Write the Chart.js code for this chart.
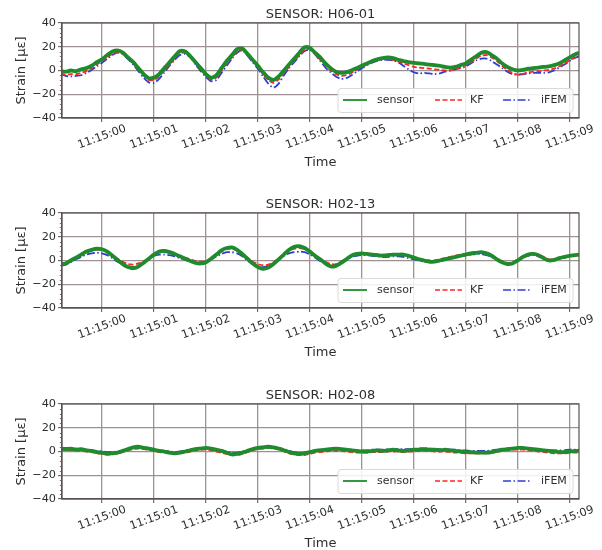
<!DOCTYPE html>
<html>
<head>
<meta charset="utf-8">
<script src="https://cdn.jsdelivr.net/npm/chart.js@4.4.1/dist/chart.umd.min.js"></script>
<style>
  html, body { margin: 0; padding: 0; background: #ffffff; }
  #wrap { position: relative; width: 602px; height: 550px; overflow: hidden; }
  #wrap canvas { position: absolute; left: 0; }
</style>
</head>
<body>
<div id="wrap">
  <canvas id="c1" width="602" height="190" style="top:0px"></canvas>
  <canvas id="c2" width="602" height="190" style="top:190px"></canvas>
  <canvas id="c3" width="602" height="169" style="top:381px"></canvas>
</div>
<script>
// Sample times in seconds after 11:15:00
const timeSec = [
  -0.8,-0.7,-0.6,-0.5,-0.4,-0.3,-0.2,-0.1,
  0.0,0.1,0.2,0.3,0.4,0.5,0.6,0.7,0.8,0.9,
  1.0,1.1,1.2,1.3,1.4,1.5,1.6,1.7,1.8,1.9,
  2.0,2.1,2.2,2.3,2.4,2.5,2.6,2.7,2.8,2.9,
  3.0,3.1,3.2,3.3,3.4,3.5,3.6,3.7,3.8,3.9,
  4.0,4.1,4.2,4.3,4.4,4.5,4.6,4.7,4.8,4.9,
  5.0,5.1,5.2,5.3,5.4,5.5,5.6,5.7,5.8,5.9,
  6.0,6.1,6.2,6.3,6.4,6.5,6.6,6.7,6.8,6.9,
  7.0,7.1,7.2,7.3,7.4,7.5,7.6,7.7,7.8,7.9,
  8.0,8.1,8.2,8.3,8.4,8.5,8.6,8.7,8.8,8.9,
  9.0,9.1,9.2
];

const tickSeconds = [0, 1, 2, 3, 4, 5, 6, 7, 8, 9];
const tickLabels = ['11:15:00','11:15:01','11:15:02','11:15:03','11:15:04',
                    '11:15:05','11:15:06','11:15:07','11:15:08','11:15:09'];
const strainTicks = [-40, -20, 0, 20, 40];
const seriesNames = ['sensor', 'KF', 'iFEM'];
const sensorIds = ['H06-01', 'H02-13', 'H02-08'];

// Strain [με] — sensor H06-01
const h0601Sensor = [
  -0.5,-1,0,-0.5,1,2,4,7,
  9.5,13,16,17,15,11,7,2,-3,-6.5,
  -6,-3,2,7,12,16.5,16,12,7,2,
  -3,-6,-4,2,8,13,18,18.5,14,9,
  4,-1.5,-6,-8,-5,0,5,10,15,19.5,
  19,15,11,6,2,-1,-2,-1.5,0,2,
  4,6,8,9.5,10.5,11,10.5,9,8,7,
  6.5,6,5.5,5,4.5,4,3,2.5,3,4.5,
  6,9,12,15,15.5,13,10,6,3,1,
  0,0.5,1.5,2,2.5,3,3.5,4.5,6,8.5,
  11,13.5,15
];
const h0601KF = [
  -3,-3.5,-3,-3,-2,-0.5,2,5,
  8,11,14,15.5,14,10.5,6,1,-4,-8,
  -8,-5,0,5,10,14.5,15,11.5,6,1,
  -4,-7.5,-6,0,6,11,16,17.5,13,8,
  3,-3,-8,-10.5,-7.5,-2,3,8,13,17.5,
  18,14,9,4,0,-3,-4.5,-4,-2,0.5,
  3,5,7,8.5,9.5,9.5,9,7.5,6,4.5,
  3,2.5,2,1.5,1,0.5,0,0,1,2.5,
  4.5,7,10,12.5,13,11,8,4,0.5,-2,
  -3.5,-3,-1.5,-1,-0.5,0,0.5,1.5,3.5,6,
  8.5,11,12.5
];
const h0601IFEM = [
  -3,-4.5,-5,-4.5,-4,-2,0.5,3.5,
  6.5,10,13,15,13.5,9.5,5,-0.5,-6,-10,
  -10.5,-7,-1.5,4,9,13,14,11,5,-0.5,
  -5.5,-9,-8,-2,4,10,15,17,12.5,7,
  1.5,-5,-11,-14.5,-11,-4,2,7,12,16.5,
  17.5,13.5,8,2.5,-1.5,-5,-7,-6.5,-4,-1,
  2,4.5,6.5,8,9,9,8.5,7,4,1,
  -1.5,-2.5,-2,-2.5,-3,-2.5,-1,0,1,2,
  3.5,6,8.5,10,10,8,5,2,-1,-3,
  -3.5,-3,-2.5,-2,-2,-2,-1.5,0,2.5,5,
  8,10.5,12
];

// Strain [με] — sensor H02-13
const h0213Sensor = [
  -3.5,-2.5,0,2.5,5,7.5,9,10,
  9.5,7.5,4,0.5,-3,-5.5,-6.5,-5,-2,1.5,
  5,7.5,8,7,5.5,3.5,1.5,-0.5,-2,-2.5,
  -1.5,1.5,5,8.5,10.5,11,9,5.5,1.5,-2.5,
  -5.5,-7,-6,-3,1,5,9,11.5,12,10.5,
  7.5,4,1,-2.5,-5,-4.5,-2,1,4,5.5,
  6,5.5,5,4.5,4,4.5,5,5,5,4,
  2.5,1,0,-1,-1,0,1,2,3,4,
  5,6,6.5,7,6,4,1,-1.5,-3,-2.5,
  0,3,5,5.5,4.5,2,0,0.5,2,3,
  4,4.5,5
];
const h0213KF = [
  -3,-2,0,2.5,5,7,8.5,9,
  9,7.5,4.5,1.5,-1,-3,-3.5,-2.5,-0.5,2,
  5,7,7.5,7,5.5,4,2.5,1,-0.5,-1,
  -0.5,2,5,7.5,9.5,10,8.5,5.5,2,-1,
  -3,-4,-3.5,-1.5,1.5,5,8,10,10.5,9.5,
  7,4,1.5,-1,-3,-3,-1,1.5,4.5,6,
  6.5,6,5.5,5,5,5,5.5,5.5,5,4,
  3,1.5,0.5,0,0,1,2,3,4,5,
  5.5,6.5,7,7,6,4,1.5,-0.5,-2,-1.5,
  1,3.5,5.5,6,5,3,1,1,2.5,3.5,
  4.5,5,5.5
];
const h0213IFEM = [
  -4.5,-3.5,-1.5,1,3,5,6,6.5,
  6,4.5,2,-1,-3.5,-5,-5.5,-4,-1.5,1.5,
  4,5,5,4.5,3.5,2,0.5,-1,-2,-2,
  -1,1,3.5,5.5,7,7,6,3.5,0,-3,
  -5,-5.5,-4.5,-2,1,4,6,7,7.5,7,
  5,2.5,-0.5,-3,-4.5,-4,-2,0.5,3,4,
  4.5,4.5,4,3.5,3,3,3.5,3.5,3,2,
  1,0,-1,-1.5,-1.5,-0.5,0.5,1.5,2.5,3.5,
  4.5,5,5.5,5.5,4.5,3,0.5,-1.5,-2.5,-2,
  0,2.5,4,4.5,3.5,1.5,0,0,1.5,2.5,
  3.5,4.5,5
];

// Strain [με] — sensor H02-08
const h0208Sensor = [
  2.5,2,2.5,1.5,2,1,0.5,-0.5,
  -1,-2,-1.5,-1,0.5,2,3.5,4,3,2.5,
  1.5,0.5,0,-1,-1.5,-1,0,1,2,2.5,
  3,2.5,1.5,0.5,-1,-2.5,-2,-1,0.5,2,
  3,3.5,4,3.5,2.5,1,-0.5,-1.5,-2,-1.5,
  -0.5,0.5,1,1.5,2,2.5,2,1.5,1,0.5,
  0,0,0.5,1,0.5,1,1.5,1,0.5,1,
  1.5,1.5,2,1.5,1.5,1,1.5,1,0.5,0,
  -0.5,-0.5,-1,-1,-1,-0.5,0.5,1.5,2,2.5,
  3,3,2.5,2,1.5,1,0.5,0,-0.5,-0.5,
  0,0.5,0.5
];
const h0208KF = [
  1.5,1.5,1,1,0.5,0,-0.5,-1.5,
  -2,-2.5,-2.5,-1.5,-0.5,1,2,2.5,2,1.5,
  0.5,-0.5,-1,-1.5,-2,-1.5,-1,0,1,1.5,
  1.5,1,0,-1,-2,-3,-3,-2,-0.5,1,
  2,2.5,3,2.5,1.5,0,-1.5,-2.5,-3,-3,
  -2,-1,-0.5,0,0.5,0.5,0.5,0,-0.5,-1,
  -1,-1,-0.5,-0.5,-0.5,0,0,0,-0.5,0,
  0,0.5,0.5,0.5,0,0,0,-0.5,-1,-1,
  -1.5,-1.5,-1.5,-1.5,-1.5,-1,-0.5,0.5,1,1.5,
  1.5,1.5,1,0.5,0,-0.5,-1,-1.5,-1.5,-1.5,
  -1,-1,-1
];
const h0208IFEM = [
  3,3,2.5,2.5,2,1.5,1,0.5,
  0,-0.5,-0.5,0,1,2,3,3.5,3.5,3,
  2,1,0.5,0,-0.5,0,0.5,1.5,2.5,3,
  3,2.5,2,1,0,-1,-1,0,1,2,
  3,3.5,4,3.5,3,2,0.5,-0.5,-1,-1,
  0,1,1.5,2,2.5,2.5,2.5,2,1.5,1,
  1,1,1.5,1.5,1.5,2,2,2,2,2,
  2,2.5,2.5,2.5,2,2,2,1.5,1.5,1,
  1,0.5,0.5,0.5,0.5,1,1.5,2,2.5,3,
  3,3,2.5,2,1.5,1.5,1,1,1,1,
  1.5,1.5,1.5
];

const panels = [
  { canvas: 'c1', id: sensorIds[0], series: [h0601Sensor, h0601KF, h0601IFEM] },
  { canvas: 'c2', id: sensorIds[1], series: [h0213Sensor, h0213KF, h0213IFEM] },
  { canvas: 'c3', id: sensorIds[2], series: [h0208Sensor, h0208KF, h0208IFEM] }
];

const FONT = '"DejaVu Sans", "Liberation Sans", sans-serif';
const TEXT = '#2e2e2e';
const GRID = '#9c9292';
const SPINE = '#5a5252';
const lineStyles = [
  { color: '#1e8c2c', width: 3.8, dash: [] },
  { color: '#ff2424', width: 1.8, dash: [5, 2.5] },
  { color: '#2f3bd6', width: 1.8, dash: [8, 2.5, 1.5, 2.5] }
];

// Frame, minor ticks, legend, titles and rotated time labels
const decor = {
  id: 'decor',
  afterDatasetsDraw(chart, args, opts) {
    const ctx = chart.ctx, a = chart.chartArea, ys = chart.scales.y;
    ctx.save();
    // axes frame
    ctx.strokeStyle = SPINE;
    ctx.lineWidth = 1.2;
    ctx.strokeRect(a.left, a.top, a.right - a.left, a.bottom - a.top);
    // minor ticks on the strain axis
    ctx.lineWidth = 0.8;
    for (let v = -36; v < 40; v += 4) {
      if (v % 20 === 0) continue;
      const py = Math.round(ys.getPixelForValue(v)) + 0.5;
      ctx.beginPath();
      ctx.moveTo(a.left - 2.2, py);
      ctx.lineTo(a.left, py);
      ctx.stroke();
    }
    // legend box
    const bx = a.right - 241, by = a.bottom - 29.5, bw = 235, bh = 24;
    ctx.fillStyle = 'rgba(255,255,255,0.85)';
    ctx.strokeStyle = '#dcd8d8';
    ctx.lineWidth = 1;
    ctx.beginPath();
    ctx.roundRect(bx, by, bw, bh, 3);
    ctx.fill();
    ctx.stroke();
    const cy = a.bottom - 18;
    const entries = [
      { x0: a.right - 236, x1: a.right - 212, tx: a.right - 202 },
      { x0: a.right - 144, x1: a.right - 117, tx: a.right - 109 },
      { x0: a.right - 76,  x1: a.right - 49,  tx: a.right - 38 }
    ];
    ctx.font = '11px ' + FONT;
    ctx.textBaseline = 'middle';
    ctx.textAlign = 'left';
    entries.forEach((e, i) => {
      const st = lineStyles[i];
      ctx.strokeStyle = st.color;
      ctx.lineWidth = i === 0 ? 1.8 : 1.6;
      ctx.setLineDash(st.dash);
      ctx.beginPath();
      ctx.moveTo(e.x0, cy);
      ctx.lineTo(e.x1, cy);
      ctx.stroke();
      ctx.setLineDash([]);
      ctx.fillStyle = TEXT;
      ctx.fillText(seriesNames[i], e.tx, cy + 0.5);
    });
    ctx.restore();
  },
  afterDraw(chart, args, opts) {
    const ctx = chart.ctx, a = chart.chartArea, xs = chart.scales.x;
    const midX = (a.left + a.right) / 2;
    ctx.save();
    ctx.fillStyle = TEXT;
    // title
    ctx.font = '13px ' + FONT;
    ctx.textAlign = 'center';
    ctx.textBaseline = 'alphabetic';
    ctx.fillText('SENSOR: ' + opts.sensor, midX, a.top - 5.5);
    // time axis labels, rotated 20 degrees
    ctx.font = '11.3px ' + FONT;
    ctx.textBaseline = 'middle';
    tickSeconds.forEach((s, i) => {
      const px = xs.getPixelForValue(s);
      ctx.save();
      ctx.translate(px, a.bottom + 19);
      ctx.rotate(-20 * Math.PI / 180);
      ctx.fillText(tickLabels[i], 0, 0);
      ctx.restore();
    });
    // axis titles
    ctx.font = '13px ' + FONT;
    ctx.textBaseline = 'alphabetic';
    ctx.fillText('Time', midX, a.bottom + 47.5);
    ctx.save();
    ctx.translate(25, (a.top + a.bottom) / 2);
    ctx.rotate(-Math.PI / 2);
    ctx.fillText('Strain [\u03bc\u03b5]', 0, 0);
    ctx.restore();
    ctx.restore();
  }
};

panels.forEach(p => {
  const canvas = document.getElementById(p.canvas);
  const H = canvas.height;
  new Chart(canvas, {
    type: 'line',
    data: {
      datasets: p.series.map((vals, i) => ({
        label: seriesNames[i],
        data: timeSec.map((t, k) => ({ x: t, y: vals[k] })),
        borderColor: lineStyles[i].color,
        borderWidth: lineStyles[i].width,
        borderDash: lineStyles[i].dash,
        pointRadius: 0,
        fill: false,
        tension: 0.25,
        clip: 0
      }))
    },
    options: {
      responsive: false,
      animation: false,
      events: [],
      layout: { padding: { left: 0, top: 23, right: 23, bottom: 0 } },
      scales: {
        x: {
          type: 'linear',
          min: -0.77,
          max: 9.18,
          afterBuildTicks: s => { s.ticks = tickSeconds.map(v => ({ value: v })); },
          afterFit: s => { s.height = H - 118; },
          ticks: { display: false },
          grid: { color: GRID, lineWidth: 1.3, drawTicks: true, tickLength: 4, tickColor: SPINE, tickWidth: 1 },
          border: { display: true, color: SPINE, width: 1.2 }
        },
        y: {
          min: -40,
          max: 40,
          afterBuildTicks: s => { s.ticks = strainTicks.map(v => ({ value: v })); },
          afterFit: s => { s.width = 62; },
          ticks: {
            color: TEXT,
            padding: 2,
            font: { family: FONT, size: 11.3 },
            callback: v => String(v).replace('-', '\u2212')
          },
          grid: { color: GRID, lineWidth: 1.3, drawTicks: true, tickLength: 4, tickColor: SPINE, tickWidth: 1 },
          border: { display: true, color: SPINE, width: 1.2 }
        }
      },
      plugins: {
        legend: { display: false },
        tooltip: { enabled: false },
        title: { display: false },
        decor: { sensor: p.id }
      }
    },
    plugins: [decor]
  });
});
</script>
</body>
</html>
